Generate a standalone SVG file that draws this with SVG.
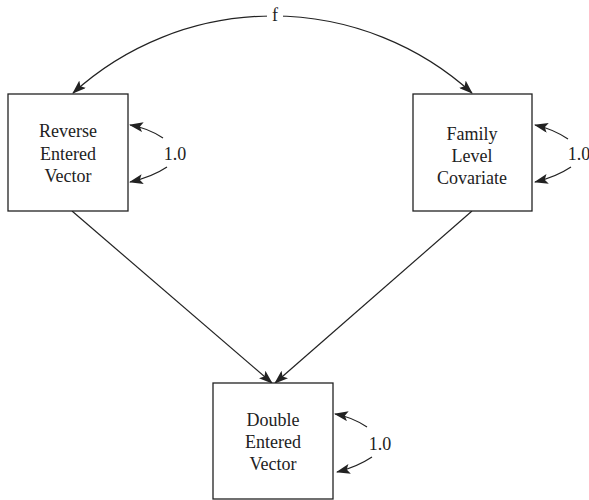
<svg xmlns="http://www.w3.org/2000/svg" width="589" height="500" viewBox="0 0 589 500">
<style>
.box{fill:#fff;stroke:#222;stroke-width:1.3}
.ln{fill:none;stroke:#222;stroke-width:1.2}
text{font-family:"Liberation Serif","Times New Roman",serif;font-size:18px;fill:#222;text-anchor:middle}
</style>
<defs>
<marker id="ah" viewBox="0 0 14 10" refX="13" refY="5" markerWidth="14" markerHeight="10" markerUnits="userSpaceOnUse" orient="auto-start-reverse">
<path d="M0,0 L14,5 L0,10 L3,5 Z" fill="#222"/>
</marker>
</defs>
<g id="connectors">
<path class="ln" d="M73,93 A297,297 0 0 1 472,93" marker-start="url(#ah)" marker-end="url(#ah)"/>
<rect x="267" y="6" width="16" height="20" fill="#fff"/>
<text x="275" y="21">f</text>
<line class="ln" x1="72" y1="211" x2="272" y2="383" marker-end="url(#ah)"/>
<line class="ln" x1="472" y1="211" x2="275" y2="383" marker-end="url(#ah)"/>
<path class="ln" d="M163,138 Q148,128 130,125" marker-end="url(#ah)"/>
<path class="ln" d="M167,167 Q152,177 130,182" marker-end="url(#ah)"/>
<text x="175" y="160">1.0</text>
<path class="ln" d="M568,139 Q553,129 535,125" marker-end="url(#ah)"/>
<path class="ln" d="M571,167 Q556,177 535,182" marker-end="url(#ah)"/>
<text x="579" y="160">1.0</text>
<path class="ln" d="M367,427 Q352,417 335,414" marker-end="url(#ah)"/>
<path class="ln" d="M372,457 Q357,467 337,472" marker-end="url(#ah)"/>
<text x="380" y="450">1.0</text>
</g>
<g id="reverse">
<rect class="box" x="8" y="94" width="120" height="117"/>
<text x="68" y="137">Reverse</text>
<text x="68" y="160">Entered</text>
<text x="68" y="182">Vector</text>
</g>
<g id="family">
<rect class="box" x="413" y="94" width="119" height="117"/>
<text x="472" y="140">Family</text>
<text x="472" y="162">Level</text>
<text x="472" y="184">Covariate</text>
</g>
<g id="double">
<rect class="box" x="213" y="383" width="120" height="116"/>
<text x="273" y="426">Double</text>
<text x="273" y="448">Entered</text>
<text x="273" y="470">Vector</text>
</g>
</svg>
